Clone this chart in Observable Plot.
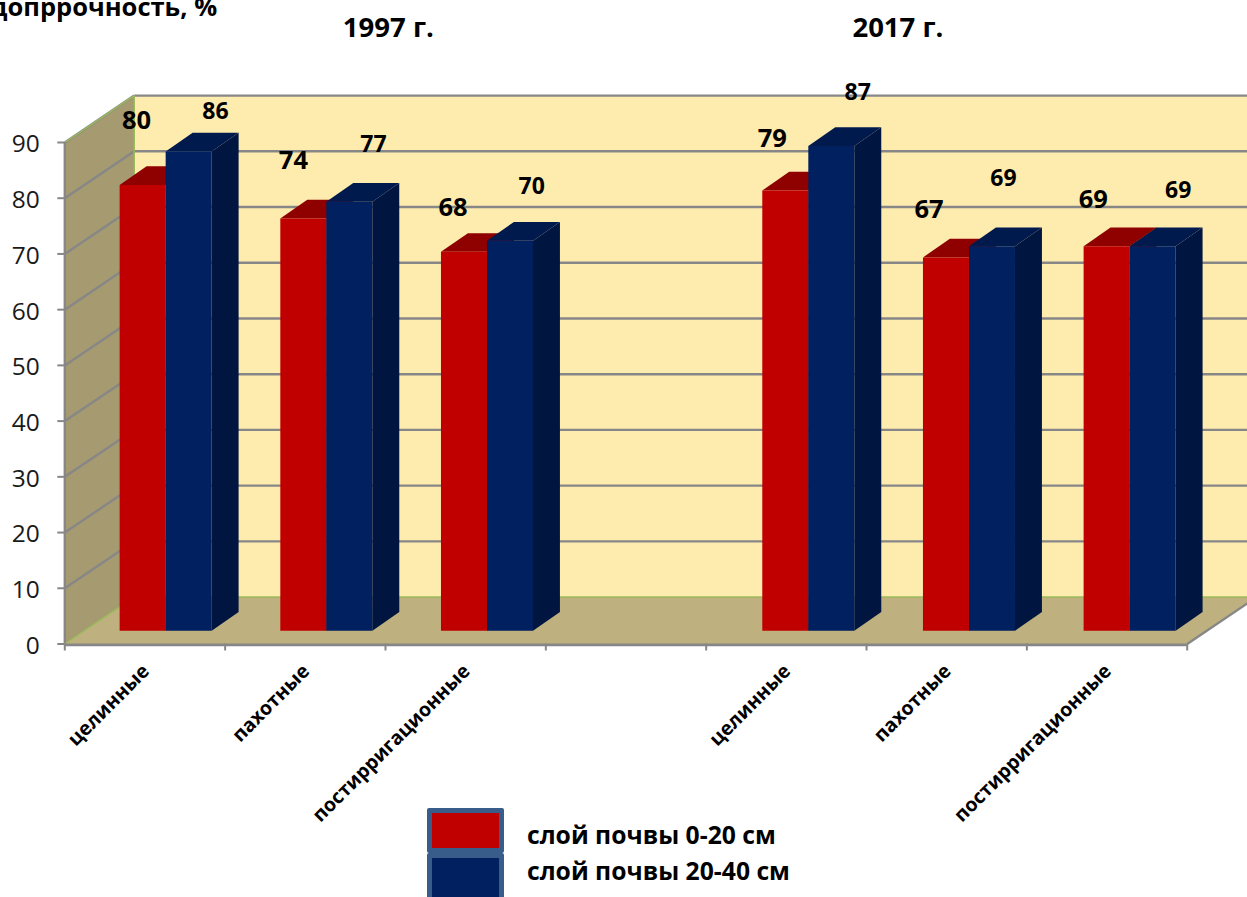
<!DOCTYPE html>
<html lang="ru">
<head>
<meta charset="utf-8">
<script src="https://cdn.jsdelivr.net/npm/d3@7"></script>
<script src="https://cdn.jsdelivr.net/npm/@observablehq/plot@0.6"></script>
<style>
  html, body { margin: 0; padding: 0; background: #fff; width: 1247px; height: 897px; overflow: hidden; }
  #page { position: relative; width: 1247px; height: 897px; overflow: hidden; font-family: "Open Sans", sans-serif; }
  #page svg { display: block; overflow: hidden; }
  .sw { position: absolute; left: 427px; width: 67px; border: 5px solid #385D8A; border-radius: 2px; }
  .lg { position: absolute; left: 527px; font: 700 24.7px "Open Sans", sans-serif; line-height: 30px; color: #000; white-space: nowrap; }
</style>
</head>
<body>
<div id="page"></div>
<script>
// --- data ---
const categories = ["целинные", "пахотные", "постирригационные", "целинные", "пахотные", "постирригационные"];
const slots = [0, 1, 2, 4, 5, 6];
const layer0to20 = [80, 74, 68, 79, 67, 69];
const layer20to40 = [86, 77, 70, 87, 69, 69];
const periods = ["1997 г.", "2017 г."];
const yTicks = [0, 10, 20, 30, 40, 50, 60, 70, 80, 90];
const yTitle = "Водопррочность, %";
const seriesNames = ["слой почвы 0-20 см", "слой почвы 20-40 см"];

// --- layout constants, in scale units ---
const wallDx = 0.433, wallDy = 8.42;      // depth of the chart box
const barDx = 0.168, barDy = 3.35;        // depth of one bar
const barW = 0.287, barStart = 0.342, barStep = 1.002, barBase = 2.38;
const xMax = 7;
const redLabelPos = [[0.447, 93.9], [1.426, 86.8], [2.421, 78.2], [4.412, 90.6], [5.39, 77.9], [6.414, 79.8]];
const blueLabelPos = [[0.94, 95.6], [1.925, 89.6], [2.912, 82], [4.945, 99], [5.854, 83.6], [6.944, 81.4]];
const periodPos = [[2.018, 110.6], [5.196, 110.6]];

const C = {
  wall: "#FEEBAE", side: "#A59A70", floor: "#BEB17F", grid: "#878787", edge: "#9BBB59",
  red: "#C00000", redTop: "#8F0000", blue: "#002060", blueTop: "#001A4E", blueSide: "#00153F"
};
const font = '"Open Sans", sans-serif';

// bar faces as polygons in scale units
const faces = [];
function addFace(id, fill, pts) { pts.forEach(([x, y]) => faces.push({id, fill, x, y})); }
[layer0to20, layer20to40].forEach((vals, s) => vals.forEach((v, i) => {
  const x0 = barStart + slots[i] * barStep + s * barW, x1 = x0 + barW;
  const b = barBase, t = barBase + v;
  addFace(`side${s}${i}`, s ? C.blueSide : C.redTop, [[x1, b], [x1 + barDx, b + barDy], [x1 + barDx, t + barDy], [x1, t]]);
  addFace(`top${s}${i}`, s ? C.blueTop : C.redTop, [[x0, t], [x1, t], [x1 + barDx, t + barDy], [x0 + barDx, t + barDy]]);
  addFace(`front${s}${i}`, s ? C.blue : C.red, [[x0, b], [x1, b], [x1, t], [x0, t]]);
}));

// box walls as polygons in scale units
const walls = [];
function addWall(id, fill, pts) { pts.forEach(([x, y]) => walls.push({id, fill, x, y})); }
const topV = yTicks[yTicks.length - 1];
addWall("back", C.wall, [[wallDx, wallDy], [xMax + wallDx, wallDy], [xMax + wallDx, topV + wallDy], [wallDx, topV + wallDy]]);
addWall("left", C.side, [[0, 0], [wallDx, wallDy], [wallDx, topV + wallDy], [0, topV]]);
addWall("floor", C.floor, [[0, 0], [xMax, 0], [xMax + wallDx, wallDy], [wallDx, wallDy]]);

const polyOpts = {x: "x", y: "y", z: "id", fill: "fill", stroke: null, curve: "linear-closed"};
const labelRows = (vals, pos) => vals.map((v, i) => ({v, x: pos[i][0], y: pos[i][1]}));

const chart = Plot.plot({
  width: 1247, height: 897,
  marginLeft: 64.3, marginRight: 60.3, marginTop: 142, marginBottom: 253.5,
  style: {background: "transparent", fontFamily: font},
  x: {type: "linear", domain: [0, xMax]},
  y: {type: "linear", domain: [0, topV]},
  color: {type: "identity"},
  marks: [
    Plot.line(walls, polyOpts),
    // gridlines on the back wall and on the left wall
    Plot.link(yTicks.slice(1), {x1: () => wallDx, x2: () => xMax + wallDx, y1: d => d + wallDy, y2: d => d + wallDy, stroke: C.grid, strokeWidth: 2.4}),
    Plot.link(yTicks.slice(1), {x1: () => 0, x2: () => wallDx, y1: d => d, y2: d => d + wallDy, stroke: C.grid, strokeWidth: 2.4}),
    // box edges
    Plot.link([[wallDx, wallDy, wallDx, topV + wallDy], [0, topV, wallDx, topV + wallDy], [0, 0, wallDx, wallDy], [wallDx, wallDy, xMax + wallDx, wallDy]],
      {x1: d => d[0], y1: d => d[1], x2: d => d[2], y2: d => d[3], stroke: C.edge, strokeWidth: 1.5}),
    Plot.link([[xMax, 0, xMax + wallDx, wallDy]],
      {x1: d => d[0], y1: d => d[1], x2: d => d[2], y2: d => d[3], stroke: C.grid, strokeWidth: 2.4}),
    // axes
    Plot.ruleX([0], {stroke: C.grid, strokeWidth: 2.4}),
    Plot.ruleY([0], {stroke: C.grid, strokeWidth: 2.8, dy: 0.8}),
    Plot.axisY({ticks: yTicks, tickSize: 7, tickFormat: () => "", label: null, stroke: C.grid, strokeWidth: 2}),
    Plot.axisY({ticks: yTicks, tickSize: 0, tickPadding: 25, label: null, fontSize: 24.5, dy: 2, color: "#1a1a1a", tickFormat: d => d}),
    Plot.axisX({ticks: d3.range(0, xMax + 1), tickSize: 7, tickFormat: () => "", label: null, stroke: C.grid, strokeWidth: 2}),
    // bars
    Plot.line(faces, polyOpts),
    // category labels
    Plot.text(categories, {
      x: (d, i) => slots[i] + 0.5, y: () => 0, text: d => d, rotate: -45, textAnchor: "end", lineAnchor: "middle",
      dx: 1, dy: 24, fontSize: 19.5, fontWeight: 700, fill: "#000"
    }),
    // value labels
    Plot.text(labelRows(layer0to20, redLabelPos), {x: "x", y: "y", text: "v", fontSize: 25.5, fontWeight: 700, fill: "#000"}),
    Plot.text(labelRows(layer20to40, blueLabelPos), {x: "x", y: "y", text: "v", fontSize: 23, fontWeight: 700, fill: "#000"}),
    // period headings
    Plot.text(periods, {x: (d, i) => periodPos[i][0], y: (d, i) => periodPos[i][1], text: d => d, fontSize: 27.5, fontWeight: 700, fill: "#000"}),
    // axis title, running off the left edge as in the source
    Plot.text([yTitle], {x: () => 0.95, y: () => 114.2, text: d => d, textAnchor: "end", fontSize: 25.5, fontWeight: 700, fill: "#000"})
  ]
});

const page = document.getElementById("page");
page.appendChild(chart);
[[808, C.red, 35], [853, C.blue, 50]].forEach(([top, bg, h]) => {
  const s = document.createElement("div");
  s.className = "sw"; s.style.top = top + "px"; s.style.background = bg; s.style.height = h + "px";
  page.appendChild(s);
});
seriesNames.forEach((t, i) => {
  const l = document.createElement("div");
  l.className = "lg"; l.textContent = t; l.style.top = (820 + i * 36) + "px";
  page.appendChild(l);
});
</script>
</body>
</html>
